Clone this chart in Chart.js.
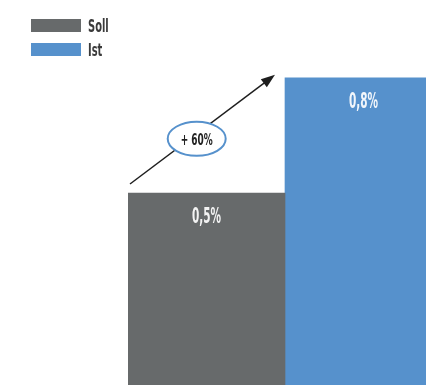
<!DOCTYPE html>
<html>
<head>
<meta charset="utf-8">
<script src="https://cdn.jsdelivr.net/npm/chart.js@4"></script>
<style>
  html, body { margin: 0; padding: 0; background: #fff; overflow: hidden; }
  #wrap { width: 426px; height: 385px; overflow: hidden; }
</style>
</head>
<body>
<div id="wrap"><canvas id="myChart" width="442" height="385"></canvas></div>
<script>
const categories = ['Soll', 'Ist'];
const sollValues = [0.5, null];
const istValues = [null, 0.8];
const changeLabel = '+ 60%';

const grey = '#676a6b';
const blue = '#5691cc';

// condensed look: draw text squeezed horizontally
function squeezedText(ctx, text, x, y, size, sx, color, align) {
    ctx.save();
    ctx.font = 'bold ' + size + 'px "DejaVu Sans"';
    ctx.fillStyle = color;
    ctx.textBaseline = 'alphabetic';
    ctx.textAlign = align || 'center';
    ctx.translate(x, y);
    ctx.scale(sx, 1);
    ctx.fillText(text, 0, 0);
    ctx.restore();
}

const extras = {
    id: 'extras',
    afterDatasetsDraw(chart) {
        const ctx = chart.ctx;

        // legend
        chart.data.datasets.forEach((ds, i) => {
            const top = 19 + i * 24;
            ctx.fillStyle = ds.backgroundColor;
            ctx.fillRect(31, top, 50, 13);
            squeezedText(ctx, ds.label, 88, top + 13, 18, 0.55, '#3a3a3a', 'left');
        });

        // value labels inside bars
        chart.data.datasets.forEach((ds, i) => {
            const meta = chart.getDatasetMeta(i);
            ds.data.forEach((v, j) => {
                if (v === null) return;
                const bar = meta.data[j];
                const txt = v.toFixed(1).replace('.', ',') + '%';
                squeezedText(ctx, txt, bar.x, bar.y + 30, 21, 0.5, 'rgba(255,255,255,0.92)');
            });
        });

        // arrow from Soll to Ist
        const b0 = chart.getDatasetMeta(0).data[0];
        const b1 = chart.getDatasetMeta(1).data[1];
        const x0 = b0.x - b0.width / 2 + 2, y0 = b0.y - 9;
        const x1 = b1.x - b1.width / 2 - 10, y1 = b1.y - 3;
        const ang = Math.atan2(y1 - y0, x1 - x0);

        ctx.save();
        ctx.strokeStyle = '#1e1e1e';
        ctx.fillStyle = '#1e1e1e';
        ctx.lineWidth = 1.5;
        ctx.beginPath();
        ctx.moveTo(x0, y0);
        ctx.lineTo(x1 - 10 * Math.cos(ang), y1 - 10 * Math.sin(ang));
        ctx.stroke();
        ctx.beginPath();
        ctx.moveTo(x1, y1);
        ctx.lineTo(x1 - 14 * Math.cos(ang) + 5 * Math.sin(ang), y1 - 14 * Math.sin(ang) - 5 * Math.cos(ang));
        ctx.lineTo(x1 - 14 * Math.cos(ang) - 5 * Math.sin(ang), y1 - 14 * Math.sin(ang) + 5 * Math.cos(ang));
        ctx.closePath();
        ctx.fill();

        // change bubble
        const t = 0.46;
        const cx = x0 + (x1 - x0) * t, cy = y0 + (y1 - y0) * t + 5;
        ctx.beginPath();
        ctx.ellipse(cx, cy, 29, 17, 0, 0, Math.PI * 2);
        ctx.fillStyle = '#fff';
        ctx.fill();
        ctx.strokeStyle = blue;
        ctx.lineWidth = 2;
        ctx.stroke();
        ctx.restore();
        squeezedText(ctx, changeLabel, cx, cy + 6, 16, 0.56, '#222');
    }
};

const ctx = document.getElementById('myChart').getContext('2d');
const myChart = new Chart(ctx, {
    type: 'bar',
    data: {
        labels: categories,
        datasets: [{
            label: 'Soll',
            data: sollValues,
            backgroundColor: grey
        }, {
            label: 'Ist',
            data: istValues,
            backgroundColor: blue
        }]
    },
    options: {
        responsive: false,
        animation: false,
        layout: { padding: { left: 128, top: 1, right: 0, bottom: 0 } },
        datasets: {
            bar: { grouped: false, barPercentage: 1, categoryPercentage: 1, borderWidth: 0 }
        },
        scales: {
            x: { display: false },
            y: { display: false, min: 0, max: 1 }
        },
        plugins: {
            legend: { display: false },
            tooltip: { enabled: false }
        }
    },
    plugins: [extras]
});
</script>
</body>
</html>
